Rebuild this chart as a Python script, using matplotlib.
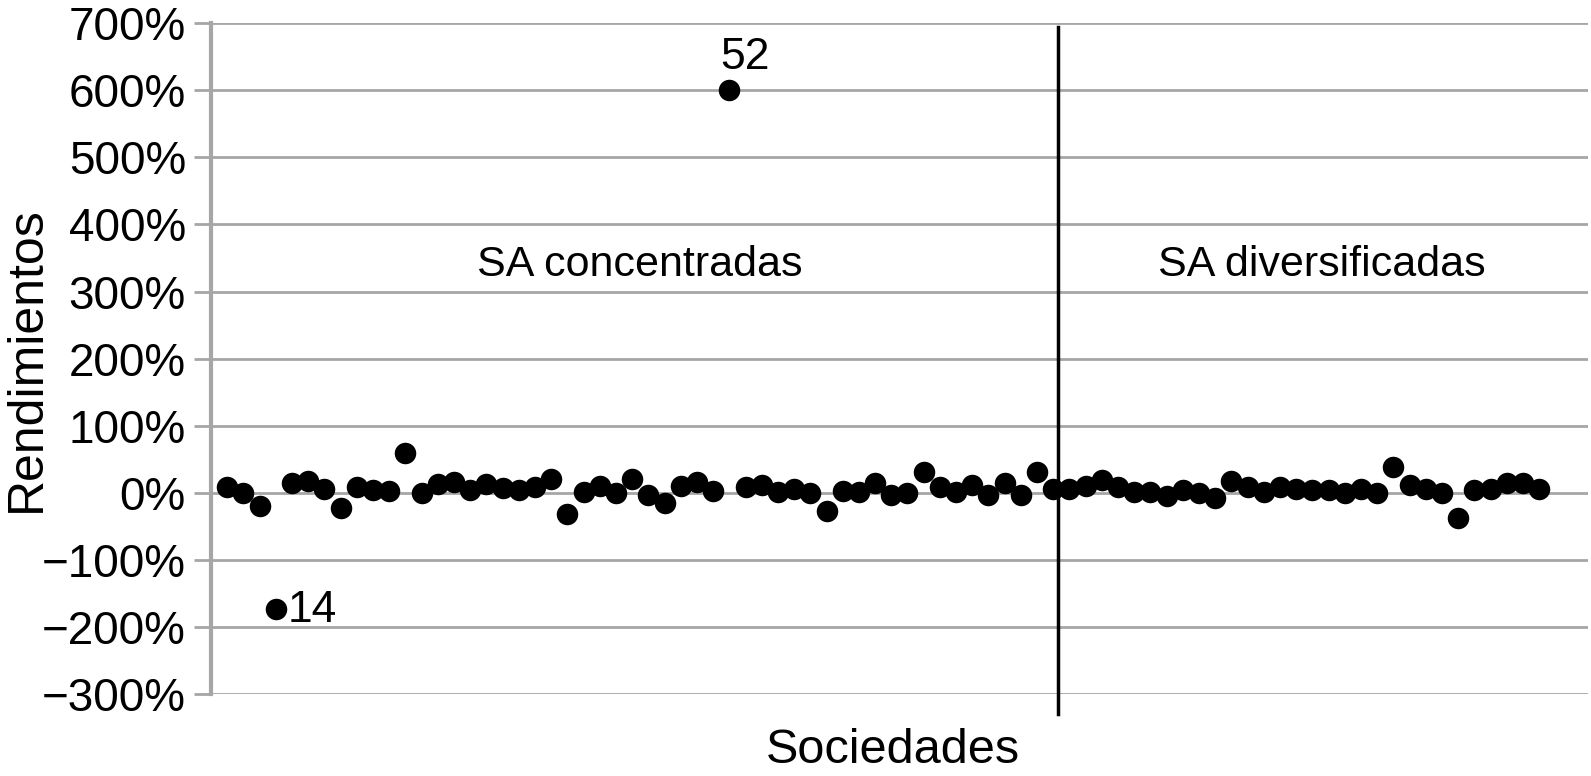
import numpy as np
import matplotlib.pyplot as plt
from matplotlib.ticker import FuncFormatter

plt.rcParams['font.family'] = ['Liberation Sans', 'DejaVu Sans']

# rendimientos (%) por sociedad, en orden
concentradas = [9, 0, -20, -173, 15, 18, 6, -22, 9, 4, 2, 60, 0, 13, 16, 4, 13, 7,
                4, 9, 21, -31, 1, 10, -1, 21, -3, -15, 10, 16, 3, 600, 9, 11, 1, 5,
                0, -27, 2, 1, 15, -3, -1, 31, 8, 1, 11, -3, 15, -3, 31, 6]
diversificadas = [6, 10, 19, 9, 1, 1, -5, 4, -1, -8, 17, 9, 1, 9, 6, 4, 4, -1,
                  6, -1, 38, 11, 6, -1, -38, 4, 6, 14, 15, 6]
etiquetas = {4: '14', 32: '52'}
yticks = [-300, -200, -100, 0, 100, 200, 300, 400, 500, 600, 700]

valores = concentradas + diversificadas
x = np.arange(1, len(valores) + 1)
corte = len(concentradas) + 0.3

fig = plt.figure(figsize=(15.91, 7.76), dpi=100)
ax = fig.add_axes([0.1326, 0.1057, 0.8654, 0.8643])

ax.scatter(x, valores, s=240, color='black', zorder=3, linewidths=0)

for idx, txt in etiquetas.items():
    v = valores[idx - 1]
    if v > 0:
        ax.text(idx + 1.0, v + 49, txt, fontsize=32, ha='center', va='center')
    else:
        ax.text(idx + 0.75, v - 3, txt, fontsize=32, ha='left', va='center')

ax.plot([corte, corte], [694, -330], color='black', lw=2.5, clip_on=False, zorder=4)

ax.text(26.5, 340, 'SA concentradas', fontsize=31, ha='center', va='center')
ax.text(68.6, 340, 'SA diversificadas', fontsize=31, ha='center', va='center')

ax.set_xlim(0, 85)
ax.set_ylim(-300, 700)
ax.set_yticks(yticks)
ax.yaxis.set_major_formatter(FuncFormatter(lambda v, p: f'{int(v)}%'.replace('-', '\u2212')))
ax.set_xticks([])
ax.grid(axis='y', color='#a6a6a6', lw=2)
ax.set_axisbelow(True)
for s in ['top', 'right', 'bottom']:
    ax.spines[s].set_visible(False)
ax.spines['left'].set_color('#a6a6a6')
ax.spines['left'].set_linewidth(3)
ax.tick_params(axis='y', length=12, width=2, color='#a6a6a6', labelsize=33, pad=6)

ax.text(-0.134, 0.5, 'Rendimientos', fontsize=36, rotation=90, ha='center', va='center',
        transform=ax.transAxes)
ax.text(0.495, -0.085, 'Sociedades', fontsize=35, ha='center', va='center',
        transform=ax.transAxes)

fig.savefig('out.png', dpi=100)
